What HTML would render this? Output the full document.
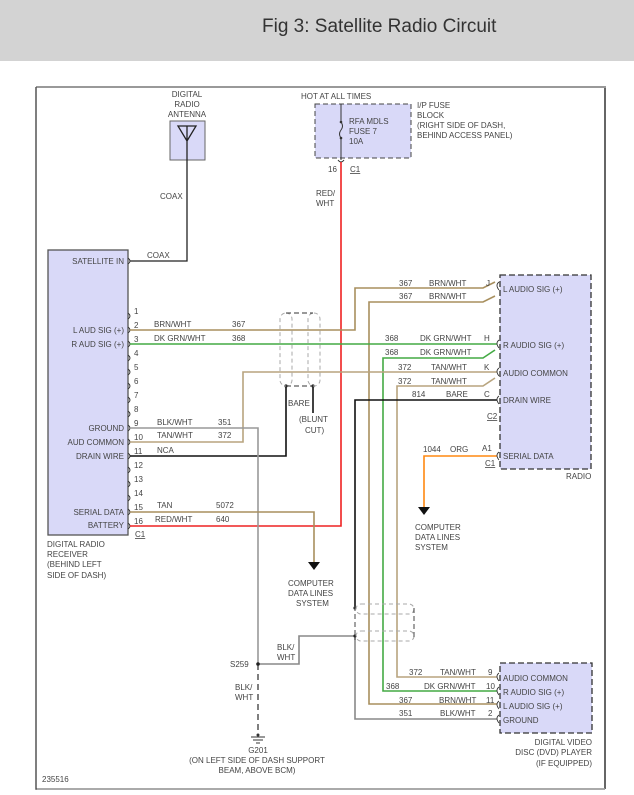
<!DOCTYPE html>
<html><head><style>
html,body{margin:0;padding:0;background:#fff;}
svg{display:block;font-family:"Liberation Sans",Arial,sans-serif;}
text{font-size:8px;fill:#444;}
</style></head><body>
<svg width="634" height="795" viewBox="0 0 634 795" xmlns="http://www.w3.org/2000/svg">
<rect x="0" y="0" width="634" height="61" fill="#d3d3d3"/>
<text x="262" y="32" style="font-size:19px;fill:#333">Fig 3: Satellite Radio Circuit</text>
<!-- frame -->
<path d="M36 87 H605 V789" fill="none" stroke="#999" stroke-width="2"/>
<path d="M605 88 V789" stroke="#333" stroke-width="1"/>
<path d="M36 87 V789 H605" fill="none" stroke="#555" stroke-width="1.5"/>
<path d="M37 789 H605" stroke="#aaa" stroke-width="1.5"/>

<!-- antenna -->
<text x="187" y="97" text-anchor="middle">DIGITAL</text>
<text x="187" y="107" text-anchor="middle">RADIO</text>
<text x="187" y="117" text-anchor="middle">ANTENNA</text>
<rect x="170" y="121" width="35" height="39" fill="#d9d9f8" stroke="#666"/>
<path d="M178 126 L187 141 L196 126 Z M187 126 V261 H130" fill="none" stroke="#222" stroke-width="1.3"/>
<text x="160" y="199">COAX</text>
<text x="147" y="258">COAX</text>

<!-- fuse block -->
<text x="301" y="99">HOT AT ALL TIMES</text>
<rect x="315" y="104" width="96" height="54" fill="#d9d9f8" stroke="#444" stroke-dasharray="5,3"/>
<path d="M341 104 V122 M341 138 V160" stroke="#333" stroke-width="1"/>
<path d="M341 122 q3 4 0 8 q-3 4 0 8" fill="none" stroke="#333"/>
<circle cx="341" cy="122" r="1.3" fill="#333"/><circle cx="341" cy="138" r="1.3" fill="#333"/>
<path d="M338 160 q3 4 6 0" fill="none" stroke="#333"/>
<text x="349" y="124">RFA MDLS</text>
<text x="349" y="134">FUSE 7</text>
<text x="349" y="144">10A</text>
<text x="417" y="108">I/P FUSE</text>
<text x="417" y="118">BLOCK</text>
<text x="417" y="128">(RIGHT SIDE OF DASH,</text>
<text x="417" y="138">BEHIND ACCESS PANEL)</text>
<text x="328" y="172">16</text>
<text x="350" y="172" text-decoration="underline">C1</text>
<text x="316" y="196">RED/</text>
<text x="316" y="206">WHT</text>

<!-- receiver -->
<rect x="48" y="250" width="80" height="285" fill="#d9d9f8" stroke="#555" stroke-width="1.3"/>
<g text-anchor="end">
<text x="124" y="264">SATELLITE IN</text>
<text x="124" y="333">L AUD SIG (+)</text>
<text x="124" y="347">R AUD SIG (+)</text>
<text x="124" y="431">GROUND</text>
<text x="124" y="445">AUD COMMON</text>
<text x="124" y="459">DRAIN WIRE</text>
<text x="124" y="515">SERIAL DATA</text>
<text x="124" y="528">BATTERY</text>
</g>
<g fill="none" stroke="#333" stroke-width="0.9">
<path d="M128 258 q4 3 0 6"/>
<path d="M128 313 q4 3 0 6 M128 327 q4 3 0 6 M128 341 q4 3 0 6 M128 355 q4 3 0 6 M128 369 q4 3 0 6 M128 383 q4 3 0 6 M128 397 q4 3 0 6 M128 411 q4 3 0 6 M128 425 q4 3 0 6 M128 439 q4 3 0 6 M128 453 q4 3 0 6 M128 467 q4 3 0 6 M128 481 q4 3 0 6 M128 495 q4 3 0 6 M128 509 q4 3 0 6 M128 523 q4 3 0 6"/>
</g>
<g style="font-size:7.5px">
<text x="134" y="314">1</text><text x="134" y="328">2</text><text x="134" y="342">3</text><text x="134" y="356">4</text>
<text x="134" y="370">5</text><text x="134" y="384">6</text><text x="134" y="398">7</text><text x="134" y="412">8</text>
<text x="134" y="426">9</text><text x="134" y="440">10</text><text x="134" y="454">11</text><text x="134" y="468">12</text>
<text x="134" y="482">13</text><text x="134" y="496">14</text><text x="134" y="510">15</text><text x="134" y="524">16</text>
</g>
<text x="135" y="537" text-decoration="underline">C1</text>
<text x="47" y="547">DIGITAL RADIO</text>
<text x="47" y="557">RECEIVER</text>
<text x="47" y="567">(BEHIND LEFT</text>
<text x="47" y="578">SIDE OF DASH)</text>

<!-- wire labels -->
<text x="154" y="327">BRN/WHT</text><text x="232" y="327">367</text>
<text x="154" y="341">DK GRN/WHT</text><text x="232" y="341">368</text>
<text x="157" y="425">BLK/WHT</text><text x="218" y="425">351</text>
<text x="157" y="438">TAN/WHT</text><text x="218" y="438">372</text>
<text x="157" y="453">NCA</text>
<text x="157" y="508">TAN</text><text x="216" y="508">5072</text>
<text x="155" y="522">RED/WHT</text><text x="216" y="522">640</text>

<!-- wires -->
<g fill="none" stroke-width="1.6">
<path d="M130 526 H341 V162" stroke="#ee2222"/>
<path d="M130 330 H355 V288 H483 L495 282" stroke="#a88f5e"/>
<path d="M495 296 L483 302 H369 V704 H497" stroke="#a88f5e"/>
<path d="M130 344 H497" stroke="#44aa44"/>
<path d="M495 350 L483 358 H383 V691 H497" stroke="#44aa44"/>
<path d="M130 442 H243 V372 H497" stroke="#b8a47e"/>
<path d="M495 378 L483 386 H397 V677 H497" stroke="#b8a47e"/>
<path d="M497 400 H355 V608" stroke="#111"/>
<path d="M130 456 H286 V386" stroke="#111"/>
<path d="M313 386 V413" stroke="#111"/>
<path d="M130 428 H258 V664" stroke="#999"/>
<path d="M258 664 H299 V636 H355 V719 H497" stroke="#888"/>
<path d="M130 512 H314 V562" stroke="#a88f5e"/>
<path d="M497 456 H424 V507" stroke="#ff8811"/>
</g>
<path d="M258 664 V735" stroke="#555" stroke-width="1.5" stroke-dasharray="6,4"/>
<circle cx="258" cy="664" r="1.8" fill="#222"/>
<circle cx="286" cy="386" r="1.6" fill="#222"/><circle cx="313" cy="386" r="1.6" fill="#222"/>
<circle cx="355" cy="608" r="1.6" fill="#222"/><circle cx="355" cy="636" r="1.6" fill="#222"/>
<path d="M308 562 h12 l-6 8 z M418 507 h12 l-6 8 z" fill="#111"/>

<!-- upper shield -->
<g fill="none" stroke="#aaa" stroke-dasharray="4,3">
<rect x="280" y="313" width="12" height="73" rx="6"/>
<rect x="308" y="313" width="12" height="73" rx="6"/>
</g>
<path d="M286 313 H313 M286 386 H313" stroke="#333" stroke-dasharray="5,3"/>
<text x="288" y="406">BARE</text>
<text x="299" y="422">(BLUNT</text>
<text x="305" y="433">CUT)</text>

<!-- lower shield -->
<g fill="none" stroke="#aaa" stroke-dasharray="4,3">
<rect x="356" y="604" width="58" height="10" rx="5"/>
<rect x="356" y="631" width="58" height="10" rx="5"/>
</g>
<path d="M355 606 V640 M414 608 V637" stroke="#444" stroke-dasharray="5,3"/>

<text x="288" y="586">COMPUTER</text>
<text x="288" y="596">DATA LINES</text>
<text x="296" y="606">SYSTEM</text>
<text x="415" y="530">COMPUTER</text>
<text x="415" y="540">DATA LINES</text>
<text x="415" y="550">SYSTEM</text>

<!-- radio -->
<rect x="500" y="275" width="91" height="194" fill="#d9d9f8" stroke="#333" stroke-dasharray="6,3" stroke-width="1.3"/>
<g fill="none" stroke="#333" stroke-width="0.9">
<path d="M499 282 q-4 3 0 8 M499 340 q-4 3 0 8 M499 368 q-4 3 0 8 M499 396 q-4 3 0 8 M499 452 q-4 3 0 8"/>
</g>
<text x="503" y="292">L AUDIO SIG (+)</text>
<text x="503" y="348">R AUDIO SIG (+)</text>
<text x="503" y="376">AUDIO COMMON</text>
<text x="503" y="403">DRAIN WIRE</text>
<text x="503" y="459">SERIAL DATA</text>
<text x="399" y="286">367</text><text x="429" y="286">BRN/WHT</text><text x="486" y="286">J</text>
<text x="399" y="299">367</text><text x="429" y="299">BRN/WHT</text>
<text x="385" y="341">368</text><text x="420" y="341">DK GRN/WHT</text><text x="484" y="341">H</text>
<text x="385" y="355">368</text><text x="420" y="355">DK GRN/WHT</text>
<text x="398" y="370">372</text><text x="431" y="370">TAN/WHT</text><text x="484" y="370">K</text>
<text x="398" y="384">372</text><text x="431" y="384">TAN/WHT</text>
<text x="412" y="397">814</text><text x="446" y="397">BARE</text><text x="484" y="397">C</text>
<text x="487" y="419" text-decoration="underline">C2</text>
<text x="423" y="452">1044</text><text x="450" y="452">ORG</text><text x="482" y="451">A1</text>
<text x="485" y="466" text-decoration="underline">C1</text>
<text x="566" y="479">RADIO</text>

<!-- DVD -->
<rect x="500" y="663" width="92" height="70" fill="#d9d9f8" stroke="#333" stroke-dasharray="6,3" stroke-width="1.3"/>
<g fill="none" stroke="#333" stroke-width="0.9">
<path d="M499 673 q-4 3 0 8 M499 687 q-4 3 0 8 M499 701 q-4 3 0 8 M499 715 q-4 3 0 8"/>
</g>
<text x="503" y="681">AUDIO COMMON</text>
<text x="503" y="695">R AUDIO SIG (+)</text>
<text x="503" y="709">L AUDIO SIG (+)</text>
<text x="503" y="723">GROUND</text>
<text x="409" y="675">372</text><text x="440" y="675">TAN/WHT</text><text x="488" y="675">9</text>
<text x="386" y="689">368</text><text x="424" y="689">DK GRN/WHT</text><text x="486" y="689">10</text>
<text x="399" y="703">367</text><text x="439" y="703">BRN/WHT</text><text x="486" y="703">11</text>
<text x="399" y="716">351</text><text x="440" y="716">BLK/WHT</text><text x="488" y="716">2</text>
<text x="592" y="745" text-anchor="end">DIGITAL VIDEO</text>
<text x="592" y="755" text-anchor="end">DISC (DVD) PLAYER</text>
<text x="592" y="766" text-anchor="end">(IF EQUIPPED)</text>

<!-- splice / ground -->
<text x="230" y="667">S259</text>
<text x="277" y="650">BLK/</text><text x="277" y="660">WHT</text>
<text x="235" y="690">BLK/</text><text x="235" y="700">WHT</text>
<path d="M251 737 H265 M253 740 H263 M256 743 H260" stroke="#333"/>
<circle cx="258" cy="735" r="1.5" fill="#333"/>
<text x="258" y="753" text-anchor="middle">G201</text>
<text x="257" y="763" text-anchor="middle">(ON LEFT SIDE OF DASH SUPPORT</text>
<text x="257" y="773" text-anchor="middle">BEAM, ABOVE BCM)</text>
<text x="42" y="782">235516</text>
</svg>
</body></html>
